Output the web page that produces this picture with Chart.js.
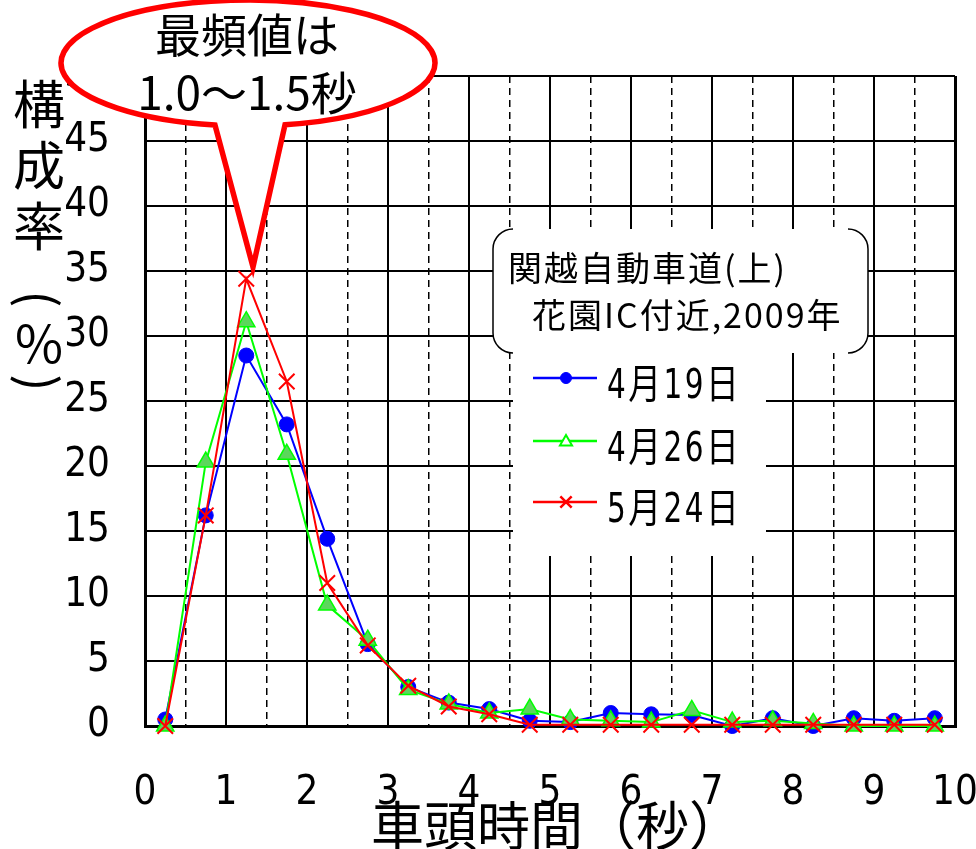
<!DOCTYPE html>
<html><head><meta charset="utf-8">
<script src="https://cdn.jsdelivr.net/npm/chart.js@4.4.0/dist/chart.umd.min.js"></script>
<style>html,body{margin:0;padding:0;background:#fff;} canvas{display:block}</style>
</head><body>
<canvas id="c" width="976" height="849"></canvas>
<script>
// ---- data ----
const headways = [0.25,0.75,1.25,1.75,2.25,2.75,3.25,3.75,4.25,4.75,5.25,5.75,6.25,6.75,7.25,7.75,8.25,8.75,9.25,9.75];
const seriesLabels = ['4月19日','4月26日','5月24日'];
const apr19 = [0.5,16.2,28.5,23.2,14.4,6.3,3.0,1.8,1.3,0.4,0.3,1.0,0.9,0.85,0.0,0.6,0.0,0.6,0.4,0.6];
const apr26 = [0.0,20.3,31.1,20.9,9.3,6.6,2.8,1.7,1.0,1.3,0.5,0.4,0.3,1.2,0.3,0.4,0.2,0.0,0.0,0.0];
const may24 = [0.0,16.2,34.4,26.5,11.0,6.2,3.1,1.5,0.9,0.1,0.1,0.1,0.1,0.1,0.1,0.1,0.1,0.1,0.1,0.1];
const xTickLabels = ['0','1','2','3','4','5','6','7','8','9','10'];
const yTickLabels = ['0','5','10','15','20','25','30','35','40','45','50'];
const yTitleChars = ['構','成','率','(','％',')'];
const xTitle = '車頭時間（秒）';
const calloutLines = ['最頻値は','1.0〜1.5秒'];
const legendTitleLines = ['関越自動車道(上)','花園IC付近,2009年'];

const NUM_FONT = "'Liberation Sans Narrow','DejaVu Sans Condensed',sans-serif";
const JP_FONT = "'Noto Sans CJK JP',sans-serif";

function pts(arr){ return arr.map((v,i)=>({x: headways[i], y: v})); }

function marker(ctx, style, x, y, r, fill, stroke, bw){
  ctx.save();
  ctx.fillStyle = fill || '#fff'; ctx.strokeStyle = stroke; ctx.lineWidth = bw;
  ctx.beginPath();
  if (style === 'circle') { ctx.arc(x, y, r, 0, Math.PI*2); ctx.fill(); ctx.stroke(); }
  else if (style === 'triangle') {
    ctx.moveTo(x, y - r); ctx.lineTo(x + r*0.866, y + r/2); ctx.lineTo(x - r*0.866, y + r/2); ctx.closePath();
    ctx.fill(); ctx.stroke();
  } else {
    const d = r*0.707;
    ctx.moveTo(x-d,y-d); ctx.lineTo(x+d,y+d); ctx.moveTo(x+d,y-d); ctx.lineTo(x-d,y+d); ctx.stroke();
  }
  ctx.restore();
}

const decor = {
  id: 'decor',
  afterDraw(chart){
    const ctx = chart.ctx;
    ctx.save();
    // ---- legend title bracket box ----
    const bx0 = 493, bx1 = 868, by0 = 229, by1 = 353, br = 20;
    ctx.fillStyle = '#fff';
    ctx.beginPath(); ctx.roundRect(bx0, by0, bx1-bx0, by1-by0, br); ctx.fill();
    ctx.strokeStyle = '#000'; ctx.lineWidth = 1.5;
    ctx.beginPath();
    ctx.moveTo(bx0+br, by0); ctx.arcTo(bx0, by0, bx0, by0+br, br); ctx.lineTo(bx0, by1-br); ctx.arcTo(bx0, by1, bx0+br, by1, br);
    ctx.moveTo(bx1-br, by0); ctx.arcTo(bx1, by0, bx1, by0+br, br); ctx.lineTo(bx1, by1-br); ctx.arcTo(bx1, by1, bx1-br, by1, br);
    ctx.stroke();
    ctx.fillStyle = '#000';
    ctx.font = '34px ' + JP_FONT;
    ctx.letterSpacing = '2px';
    ctx.textBaseline = 'middle'; ctx.textAlign = 'left';
    ctx.fillText(legendTitleLines[0], 508, 268);
    ctx.fillText(legendTitleLines[1], 532, 315);
    ctx.letterSpacing = '0px';
    // ---- legend entries ----
    ctx.fillStyle = '#fff';
    ctx.fillRect(513, 353, 766-513, 556-353);
    const rowsY = [378, 441, 502];
    chart.data.datasets.forEach((ds, i) => {
      const y = rowsY[i];
      ctx.strokeStyle = ds.borderColor; ctx.lineWidth = 2.5;
      ctx.beginPath(); ctx.moveTo(533, y); ctx.lineTo(597, y); ctx.stroke();
      if (ds.pointStyle === 'circle') marker(ctx, 'circle', 566, y, 5.5, ds.borderColor, ds.borderColor, 1);
      else if (ds.pointStyle === 'triangle') marker(ctx, 'triangle', 566, y+1, 7, '#fff', ds.borderColor, 2);
      else marker(ctx, 'cross', 566, y, 8, null, ds.borderColor, 2.5);
      ctx.save();
      ctx.translate(607, y + 10);
      ctx.scale(0.82, 1);
      ctx.fillStyle = '#000';
      ctx.font = "40px 'Liberation Sans Narrow','DejaVu Sans Condensed','Noto Sans CJK JP',sans-serif";
      ctx.letterSpacing = '3px';
      ctx.textBaseline = 'middle'; ctx.textAlign = 'left';
      ctx.fillText(ds.label, 0, 0);
      ctx.restore();
    });
    // ---- y axis title (vertical) ----
    ctx.fillStyle = '#000';
    ctx.font = '52px ' + JP_FONT;
    ctx.textAlign = 'center'; ctx.textBaseline = 'middle';
    const ty = [104, 165, 226, 299, 344, 383];
    yTitleChars.forEach((ch, i) => {
      if (ch === '(' || ch === ')') {
        ctx.save(); ctx.translate(39, ty[i]); ctx.rotate(Math.PI/2);
        ctx.font = '50px ' + JP_FONT;
        ctx.fillText(ch, 0, 0); ctx.restore();
      } else {
        ctx.fillText(ch, 39, ty[i]);
      }
    });
    // ---- x axis title ----
    ctx.font = '53px ' + JP_FONT;
    ctx.textAlign = 'left'; ctx.textBaseline = 'middle';
    ctx.fillText(xTitle, 371, 826);
    // ---- callout ----
    const cx = 248, cy = 63, rx = 187, ry = 63;
    const aR = Math.acos((285-cx)/rx), aL = Math.acos((215-cx)/rx);
    ctx.beginPath();
    ctx.ellipse(cx, cy, rx, ry, 0, aR, aL, true);
    ctx.lineTo(253, 267);
    ctx.closePath();
    ctx.fillStyle = '#fff'; ctx.fill();
    ctx.strokeStyle = '#ff0000'; ctx.lineWidth = 5.5; ctx.lineJoin = 'miter'; ctx.stroke();
    ctx.fillStyle = '#000';
    ctx.font = '46px ' + JP_FONT;
    ctx.textAlign = 'center'; ctx.textBaseline = 'middle';
    ctx.fillText(calloutLines[0], 247, 35);
    ctx.textBaseline = 'alphabetic';
    ctx.fillText(calloutLines[1], 247, 110);
    ctx.restore();
  }
};

new Chart(document.getElementById('c'), {
  type: 'line',
  data: {
    datasets: [
      { label: seriesLabels[0], data: pts(apr19), borderColor: '#0000ff', backgroundColor: '#0000ff',
        pointStyle: 'circle', pointRadius: 7.5, pointBorderWidth: 1, pointBackgroundColor: '#0000ff', pointBorderColor: '#0000ff',
        borderWidth: 2, tension: 0, clip: false, order: 3 },
      { label: seriesLabels[1], data: pts(apr26), borderColor: '#00ff00', backgroundColor: '#00ff00',
        pointStyle: 'triangle', pointRadius: 10, pointBorderWidth: 1.5, pointBackgroundColor: '#5cd65c', pointBorderColor: '#00ff00',
        borderWidth: 2, tension: 0, clip: false, order: 2 },
      { label: seriesLabels[2], data: pts(may24), borderColor: '#ff0000', backgroundColor: '#ff0000',
        pointStyle: 'crossRot', pointRadius: 11, pointBorderWidth: 2, pointBorderColor: '#ff0000',
        borderWidth: 2, tension: 0, clip: false, order: 1 }
    ]
  },
  options: {
    responsive: false, animation: false, events: [],
    layout: { padding: { top: 76, right: 21, left: 0, bottom: 0 } },
    plugins: { legend: { display: false }, tooltip: { enabled: false } },
    scales: {
      x: {
        type: 'linear', min: 0, max: 10,
        afterFit: s => { s.height = 123; s.paddingLeft = 0; s.paddingRight = 0; },
        ticks: { stepSize: 0.5, autoSkip: false, maxRotation: 0, minRotation: 0, padding: 44, color: '#000',
          font: { family: NUM_FONT, size: 40 },
          callback: v => Number.isInteger(v) ? xTickLabels[v] : '' },
        grid: { color: '#000', drawTicks: false,
          lineWidth: c => { const v = c.tick ? c.tick.value : 0; return (v === 0 || v === 10) ? 3 : (Number.isInteger(v) ? 2 : 1.5); } },
        border: { color: '#000', width: 3,
          dash: c => (c.tick && !Number.isInteger(c.tick.value)) ? [7,5] : [] }
      },
      y: {
        min: 0, max: 50,
        afterFit: s => { s.width = 145; s.paddingTop = 0; s.paddingBottom = 0; },
        ticks: { stepSize: 5, padding: 35, color: '#000', font: { family: NUM_FONT, size: 40 },
          callback: v => yTickLabels[Math.round(v/5)] },
        grid: { color: '#000', drawTicks: false, lineWidth: 2 },
        border: { color: '#000', width: 3 }
      }
    }
  },
  plugins: [decor]
});
</script>
</body></html>
